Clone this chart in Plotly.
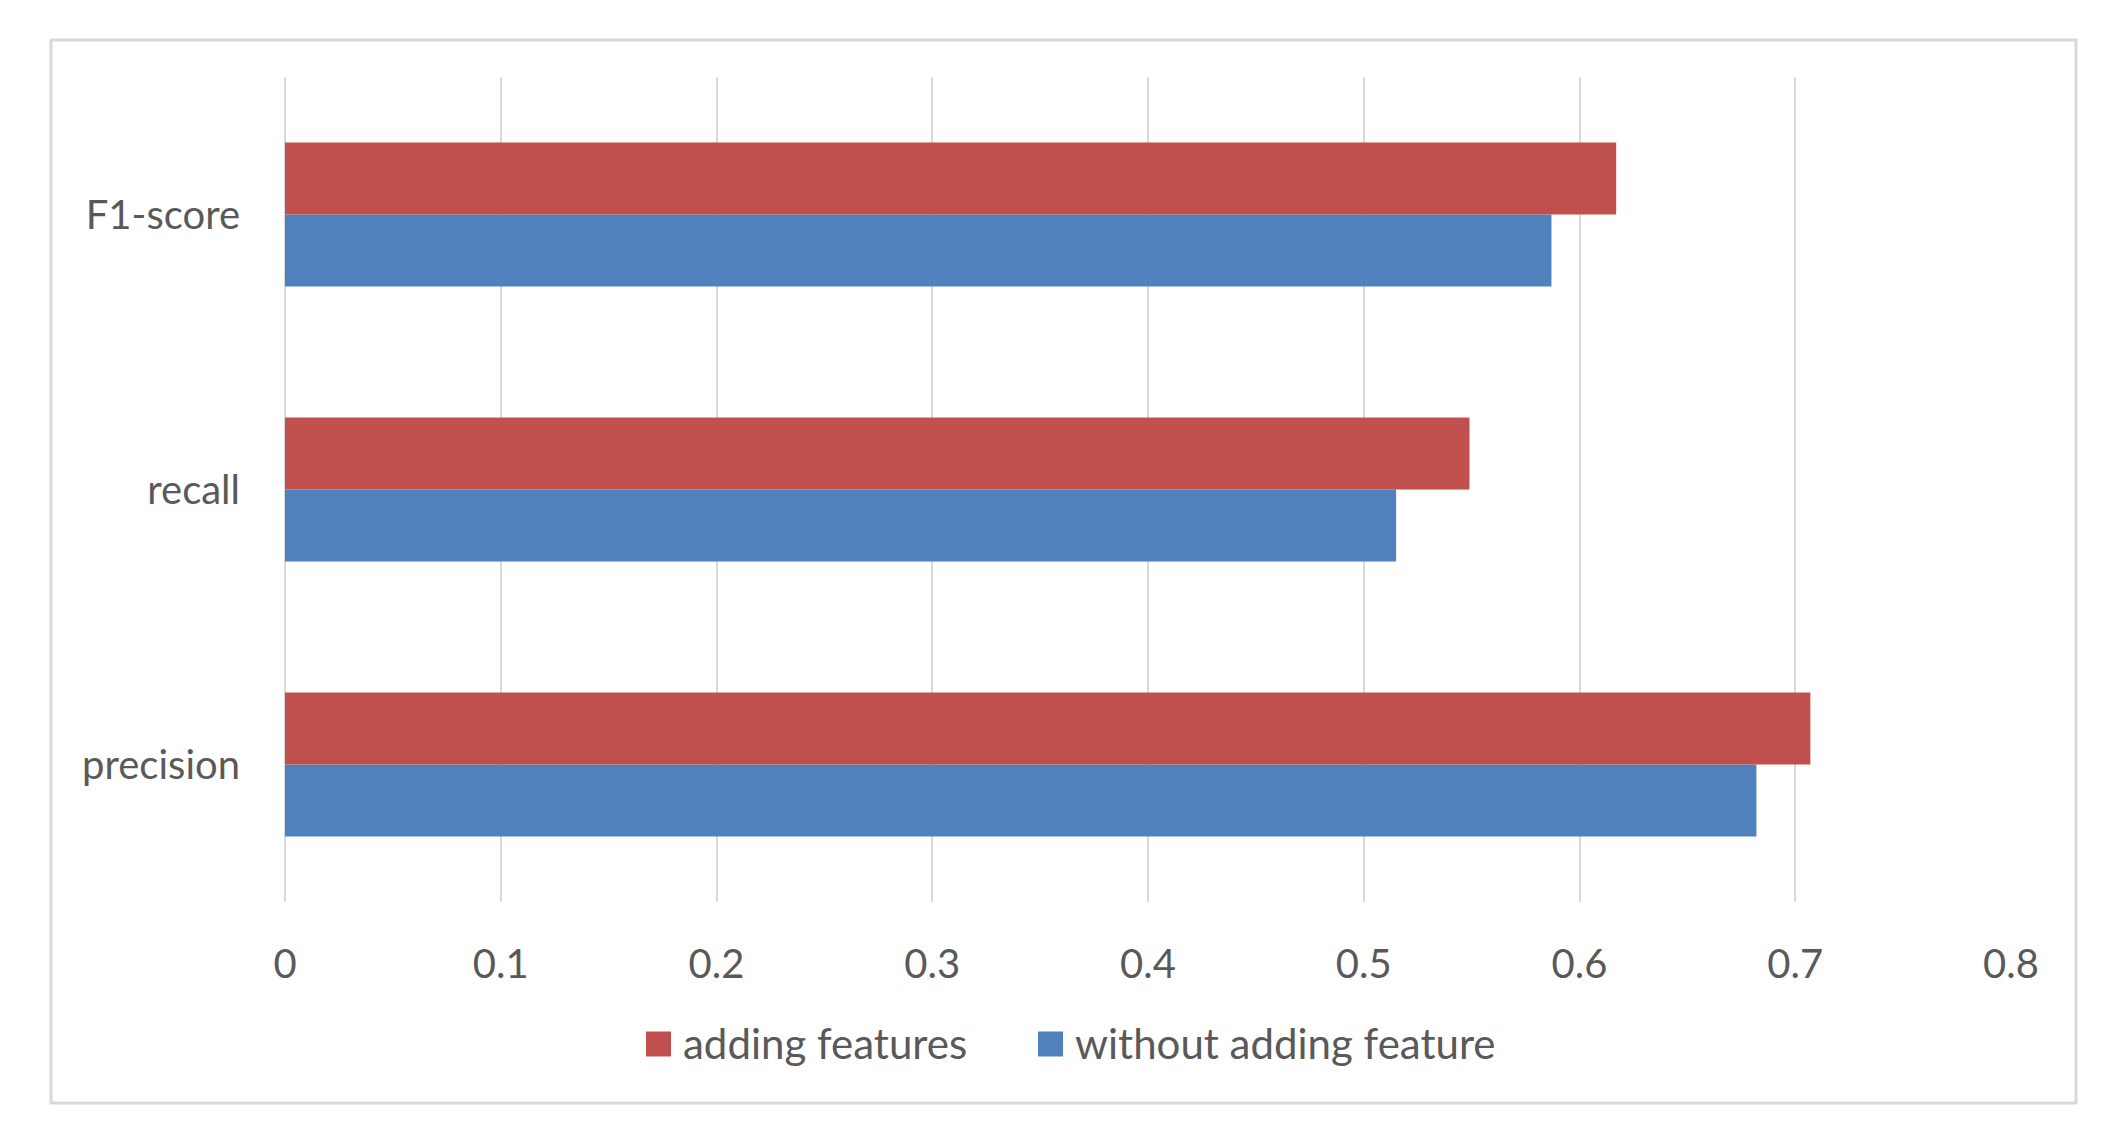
import plotly.graph_objects as go

categories = ["precision", "recall", "F1-score"]
adding_features = [0.707, 0.549, 0.617]
without_adding = [0.682, 0.515, 0.587]
series_names = ["adding features", "without adding feature"]
x_ticks = [0, 0.1, 0.2, 0.3, 0.4, 0.5, 0.6, 0.7, 0.8]
x_tick_labels = ["0", "0.1", "0.2", "0.3", "0.4", "0.5", "0.6", "0.7", "0.8"]

RED = "#C0504D"
BLUE = "#4F81BD"
GRID = "#D9D9D9"
TEXT = "#595959"
FONT = "Lato, 'Open Sans', sans-serif"
FS = 40
LEG_FS = 42

fig = go.Figure()
fig.add_trace(go.Bar(y=categories, x=without_adding, orientation="h",
                     name=series_names[1], marker=dict(color=BLUE, line=dict(width=0)),
                     showlegend=False))
fig.add_trace(go.Bar(y=categories, x=adding_features, orientation="h",
                     name=series_names[0], marker=dict(color=RED, line=dict(width=0)),
                     showlegend=False))

# figure coordinates (page is offset by the 8px body margin)
W, H = 2118, 1141
OFF = 8
L, R, T, B = 285 - OFF, 2011 - OFF, 77 - OFF, 902 - OFF
fig.update_layout(
    width=W, height=H,
    margin=dict(l=L, r=W - R, t=T, b=H - B),
    paper_bgcolor="white", plot_bgcolor="white",
    barmode="group", bargap=0.476, bargroupgap=0,
    font=dict(family=FONT, size=FS, color=TEXT),
    showlegend=False,
    xaxis=dict(range=[0, 0.8], tickvals=x_ticks, ticktext=x_tick_labels,
               showgrid=True, gridcolor=GRID, gridwidth=2,
               zeroline=True, zerolinecolor=GRID, zerolinewidth=2,
               showline=False, ticks="", ticklabelstandoff=35,
               tickfont=dict(size=FS, color=TEXT), fixedrange=True),
    yaxis=dict(categoryorder="array", categoryarray=categories,
               showgrid=False, zeroline=False, showline=False, ticks="",
               ticklabelstandoff=44, tickfont=dict(size=FS, color=TEXT)),
)

pw, ph = R - L, B - T
def px(x):
    return (x - OFF - L) / pw
def py(y):
    return (B - (y - OFF)) / ph

# outer chart border
fig.add_shape(type="rect", xref="paper", yref="paper",
              x0=px(51), x1=px(2076), y0=py(1103), y1=py(40),
              line=dict(color=GRID, width=3), fillcolor="rgba(0,0,0,0)", layer="below")

# legend (swatch + label), matching the reference's large square keys
legend_items = [(series_names[0], RED, 646, 682), (series_names[1], BLUE, 1038, 1074)]
sw = 25
cy = 1044
for name, col, sx, tx in legend_items:
    fig.add_shape(type="rect", xref="paper", yref="paper",
                  x0=px(sx), x1=px(sx + sw), y0=py(cy + sw / 2), y1=py(cy - sw / 2),
                  line=dict(width=0), fillcolor=col)
    fig.add_annotation(xref="paper", yref="paper", x=px(tx), y=py(cy - 1),
                       xanchor="left", yanchor="middle", text=name, showarrow=False,
                       font=dict(size=LEG_FS, color=TEXT, family=FONT), borderpad=0)

fig.write_html("out.html")
